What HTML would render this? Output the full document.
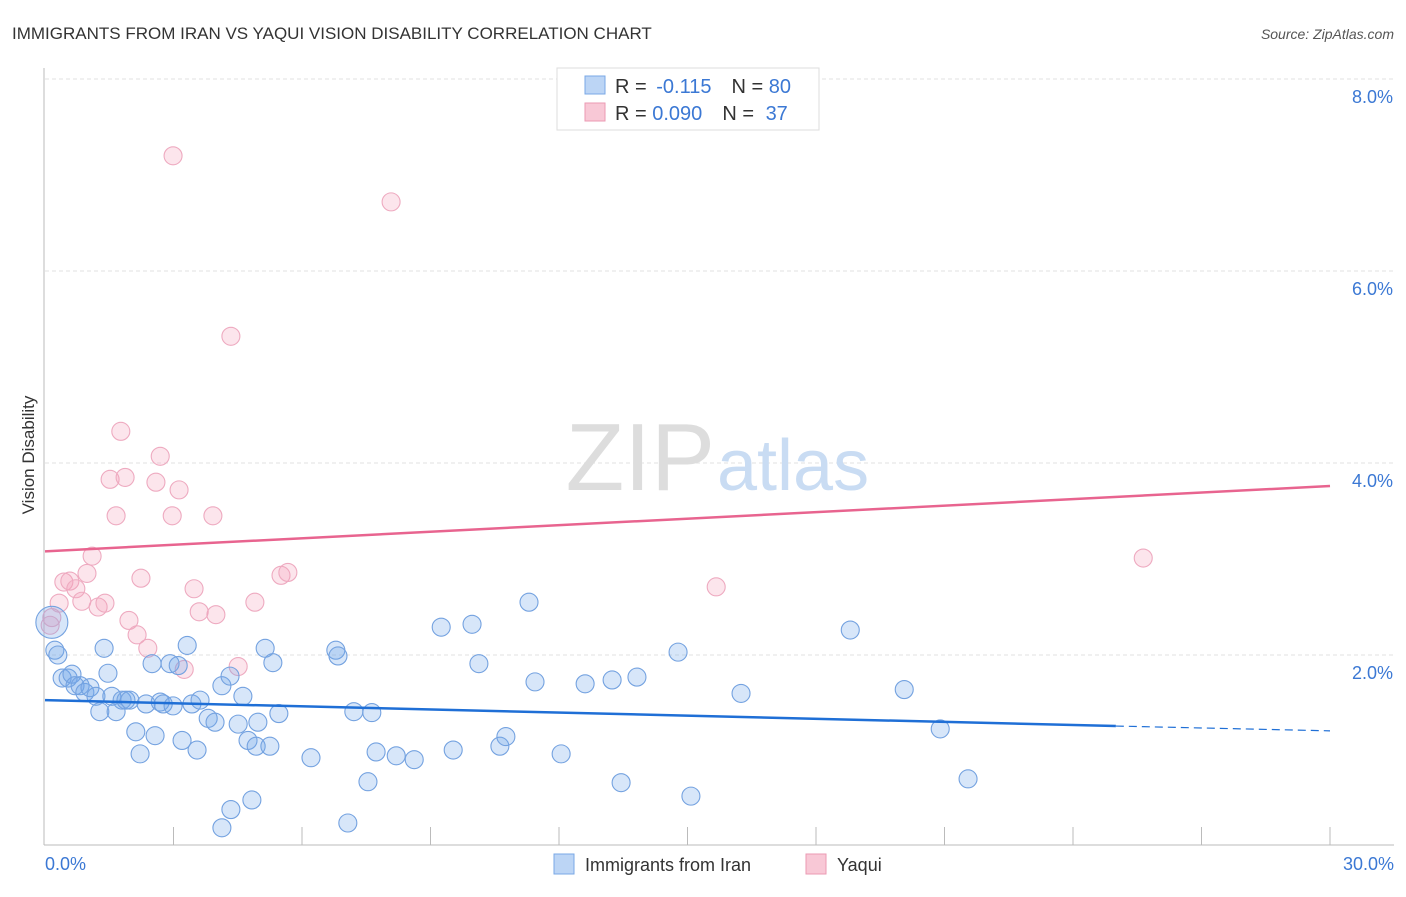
<!DOCTYPE html>
<html><head><meta charset="utf-8"><style>
body{margin:0;background:#fff;font-family:"Liberation Sans",sans-serif;}
svg text{font-family:"Liberation Sans",sans-serif;}
</style></head><body>
<svg width="1406" height="892" viewBox="0 0 1406 892">
<text x="12" y="39" font-size="17" fill="#333">IMMIGRANTS FROM IRAN VS YAQUI VISION DISABILITY CORRELATION CHART</text>
<text x="1394" y="39" font-size="14" fill="#555" font-style="italic" text-anchor="end">Source: ZipAtlas.com</text>
<g id="grid"></g>
<text x="715" y="490" font-size="96" fill="#ddd" font-family="Liberation Serif" text-anchor="end">ZIP</text>
<text x="717" y="490" font-size="72" fill="#c9dcf3">atlas</text>
<line x1="44" y1="68" x2="44" y2="845" stroke="#bbb"/>
<line x1="44" y1="845" x2="1394" y2="845" stroke="#bbb"/>
<g id="ticks"></g>
<g id="pts"></g>
<g id="lines"></g>
<text x="34" y="455" font-size="17" fill="#333" text-anchor="middle" transform="rotate(-90 34 455)">Vision Disability</text>
<text x="45" y="870" font-size="18" fill="#3b78d4">0.0%</text>
<text x="1394" y="870" font-size="18" fill="#3b78d4" text-anchor="end">30.0%</text>
<g>
<rect x="557" y="68" width="262" height="62" fill="#fff" stroke="#ddd"/>
<rect x="585" y="76" width="20" height="18" fill="#bcd5f5" stroke="#7aa8e6"/>
<text x="615" y="93" font-size="20" fill="#333">R = <tspan dx="4" fill="#3b78d4">-0.115</tspan><tspan dx="20">N = </tspan><tspan fill="#3b78d4">80</tspan></text>
<rect x="585" y="103" width="20" height="18" fill="#f8c8d6" stroke="#eb9ab3"/>
<text x="615" y="120" font-size="20" fill="#333">R = <tspan fill="#3b78d4">0.090</tspan><tspan dx="20">N = </tspan><tspan dx="6" fill="#3b78d4">37</tspan></text>
</g>
<g>
<rect x="554" y="854" width="20" height="20" fill="#bcd5f5" stroke="#7aa8e6"/>
<text x="585" y="871" font-size="18" fill="#333">Immigrants from Iran</text>
<rect x="806" y="854" width="20" height="20" fill="#f8c8d6" stroke="#eb9ab3"/>
<text x="837" y="871" font-size="18" fill="#333">Yaqui</text>
</g>
</svg>
<script>
const yTicks=[2,4,6,8];
const xTickVals=[3,6,9,12,15,18,21,24,27,30];
const blueX=[0.16,0.23,0.30,0.40,0.54,0.63,0.70,0.82,0.93,1.05,1.19,1.28,1.38,1.47,1.56,1.66,1.80,1.89,1.98,2.12,2.22,2.36,2.50,2.57,2.69,2.76,2.92,2.99,3.11,3.20,3.32,3.43,3.55,3.62,3.81,3.97,4.13,4.32,4.34,4.51,4.62,4.74,4.83,4.93,4.97,5.14,5.25,5.32,5.46,6.21,6.79,6.84,7.07,7.21,7.54,7.63,7.73,8.20,8.62,9.25,9.53,9.97,10.13,10.62,10.76,11.30,11.44,12.05,12.61,13.24,13.45,13.82,14.78,15.08,16.25,18.80,20.06,20.90,21.55,4.13];
const blueY=[2.34,2.05,2.00,1.76,1.76,1.80,1.68,1.68,1.61,1.66,1.57,1.41,2.07,1.81,1.57,1.41,1.53,1.53,1.53,1.20,0.97,1.49,1.91,1.16,1.51,1.49,1.91,1.47,1.89,1.11,2.10,1.49,1.01,1.53,1.34,1.30,1.68,1.78,0.39,1.28,1.57,1.11,0.49,1.05,1.30,2.07,1.05,1.92,1.39,0.93,2.05,1.99,0.25,1.41,0.68,1.40,0.99,0.95,0.91,2.29,1.01,2.32,1.91,1.05,1.15,2.55,1.72,0.97,1.70,1.74,0.67,1.77,2.03,0.53,1.60,2.26,1.64,1.23,0.71,0.20];
const pinkX=[0.12,0.16,0.33,0.44,0.58,0.72,0.86,0.98,1.10,1.24,1.40,1.52,1.66,1.77,1.87,1.96,2.15,2.24,2.40,2.59,2.69,2.97,2.99,3.13,3.25,3.48,3.60,3.92,3.99,4.34,4.51,4.90,5.51,5.67,8.08,15.67,25.64];
const pinkY=[2.31,2.39,2.54,2.76,2.77,2.69,2.56,2.85,3.03,2.50,2.54,3.83,3.45,4.33,3.85,2.36,2.21,2.80,2.07,3.80,4.07,3.45,7.20,3.72,1.85,2.69,2.45,3.45,2.42,5.32,1.88,2.55,2.83,2.86,6.72,2.71,3.01];
const blueTrend=[1.53,1.26,1.21];
const pinkTrend=[3.08,3.76];
const NS='http://www.w3.org/2000/svg';
const sx=v=>45+v/30*1285, sy=v=>847-v*96;
function mk(t,a,p){const e=document.createElementNS(NS,t);for(const k in a)e.setAttribute(k,a[k]);p.appendChild(e);return e;}
const grid=document.getElementById('grid');
yTicks.forEach(v=>{
 const l=mk('line',{x1:45,x2:1394,y1:sy(v),y2:sy(v),stroke:'#e2e2e2','stroke-dasharray':'4,3'},grid);
 
 
 const t=mk('text',{x:1393,y:sy(v)+24,'font-size':18,fill:'#3b78d4','text-anchor':'end'},grid);
 t.textContent=v.toFixed(1)+'%';
 
 
});
const tk=document.getElementById('ticks');
xTickVals.forEach(v=>{
 const l=mk('line',{x1:sx(v),x2:sx(v),y1:827,y2:845,stroke:'#bbb'},tk);
 
 
});
const pts=document.getElementById('pts');
pinkX.forEach((x,i)=>{
 const c=mk('circle',{cx:sx(x),cy:sy(pinkY[i]),r:9,fill:'rgba(244,160,188,0.28)',stroke:'#eeaac0','stroke-width':1.1},pts);
 
 
});
blueX.forEach((x,i)=>{
 const c=mk('circle',{cx:sx(x),cy:sy(blueY[i]),r:i==0?16:9,fill:'rgba(110,165,232,0.28)',stroke:'#74a2e0','stroke-width':1.1},pts);
 
 
});
const ln=document.getElementById('lines');
const p=mk('line',{x1:sx(0),y1:sy(pinkTrend[0]),x2:sx(30),y2:sy(pinkTrend[1]),stroke:'#e8648f','stroke-width':2.5},ln);


const b=mk('line',{x1:sx(0),y1:sy(blueTrend[0]),x2:sx(25),y2:sy(blueTrend[1]),stroke:'#1f6fd6','stroke-width':2.5},ln);


const bd=mk('line',{x1:sx(25),y1:sy(blueTrend[1]),x2:sx(30),y2:sy(blueTrend[2]),stroke:'#1f6fd6','stroke-width':1.2,'stroke-dasharray':'8,5'},ln);


</script>
</body></html>
